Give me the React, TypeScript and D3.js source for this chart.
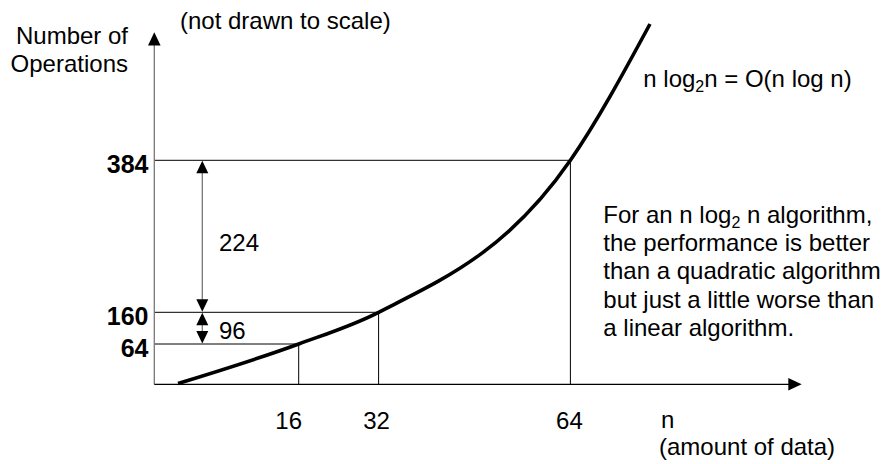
import React from "react";
import * as d3 from "d3";

// Data
const curveN = [1, 16, 32, 64, 80];
const curveOps = [0, 64, 160, 384, 506];
const nTicks = [16, 32, 64];
const opsTicks = [64, 160, 384];
const gapLabels = ["224", "96"];
const paragraph = [
  ["For an n log", "2", " n algorithm,"],
  ["the performance is better"],
  ["than a quadratic algorithm"],
  ["but just a little worse than"],
  ["a linear algorithm."],
];

const W = 886;
const H = 464;
const FONT = "'Liberation Sans', Arial, Helvetica, sans-serif";

export default function App() {
  // "not drawn to scale": piecewise linear scales
  const x = d3.scaleLinear().domain(curveN).range([178, 298.7, 378.6, 570.4, 650]);
  const y = d3.scaleLinear().domain(curveOps).range([383.5, 344, 312.3, 160.3, 24]);

  const axisX = 154.3;
  const axisY = 384.3;
  const pts: [number, number][] = curveN.map((n, i) => [x(n), y(curveOps[i])]);
  const line = d3.line().curve(d3.curveMonotoneX);
  const curvePath = line(pts) || "";

  const arrowX = 202.3;
  const ah = 12.5; // arrow head length
  const aw = 6; // half width
  const upHead = (tipY: number) => `M${arrowX},${tipY}L${arrowX - aw},${tipY + ah}L${arrowX + aw},${tipY + ah}Z`;
  const downHead = (tipY: number) => `M${arrowX},${tipY}L${arrowX - aw},${tipY - ah}L${arrowX + aw},${tipY - ah}Z`;

  const y384 = y(opsTicks[2]);
  const y160 = y(opsTicks[1]);
  const y64 = y(opsTicks[0]);

  const tickDx = [-10, -2, -1];

  return (
    <svg
      width={W}
      height={H}
      style={{ position: "absolute", left: 0, top: 0, background: "#fff" }}
      fontFamily={FONT}
    >
      <rect width={W} height={H} fill="#fff" />
      {/* guide lines */}
      {opsTicks.map((v, i) => (
        <g key={"g" + v}>
          <line x1={axisX} x2={x(nTicks[i])} y1={y(v)} y2={y(v)} stroke="#000" strokeWidth={1} />
          <line x1={x(nTicks[i])} x2={x(nTicks[i])} y1={y(v)} y2={axisY} stroke="#000" strokeWidth={1} />
        </g>
      ))}

      {/* axes */}
      <line x1={axisX} x2={axisX} y1={axisY} y2={44} stroke="#777" strokeWidth={1.3} />
      <path d={`M${axisX},32.3L${axisX - 6.3},45.5L${axisX + 6.3},45.5Z`} fill="#000" />
      <line x1={axisX} x2={789} y1={axisY} y2={axisY} stroke="#000" strokeWidth={1.2} />
      <path d={`M801.7,${axisY}L788.3,${axisY - 6.2}L788.3,${axisY + 6.2}Z`} fill="#000" />

      {/* curve */}
      <path d={curvePath} fill="none" stroke="#000" strokeWidth={3.6} />

      {/* dimension arrows */}
      <line x1={arrowX} x2={arrowX} y1={y384 + ah} y2={y160 - ah} stroke="#777" strokeWidth={1.3} />
      <path d={upHead(y384 + 0.5)} fill="#000" />
      <path d={downHead(y160 - 0.5)} fill="#000" />
      <line x1={arrowX} x2={arrowX} y1={y160 + ah} y2={y64 - ah} stroke="#777" strokeWidth={1.3} />
      <path d={upHead(y160 + 0.5)} fill="#000" />
      <path d={downHead(y64 - 0.5)} fill="#000" />

      <text x={219} y={(y384 + y160) / 2 + 15} fontSize={24} fill="#000">{gapLabels[0]}</text>
      <text x={219} y={(y160 + y64) / 2 + 11} fontSize={24} fill="#000">{gapLabels[1]}</text>

      {/* y labels */}
      {opsTicks.map((v) => (
        <text key={"yl" + v} x={148.5} y={y(v) + 13} fontSize={25} fontWeight="bold" textAnchor="end" fill="#000">
          {v}
        </text>
      ))}

      {/* x labels */}
      {nTicks.map((n, i) => (
        <text key={"xl" + n} x={x(n) + tickDx[i]} y={429} fontSize={24} textAnchor="middle" fill="#000">
          {n}
        </text>
      ))}

      {/* axis titles */}
      <text x={128} y={44} fontSize={24} textAnchor="end" fill="#000">Number of</text>
      <text x={128} y={71.5} fontSize={24} textAnchor="end" fill="#000">Operations</text>
      <text x={180} y={29} fontSize={24} fill="#000">(not drawn to scale)</text>
      <text x={661} y={428} fontSize={24} fill="#000">n</text>
      <text x={659} y={455} fontSize={24} fill="#000">(amount of data)</text>

      {/* curve label */}
      <text x={643.3} y={87} fontSize={24} fill="#000">
        n log<tspan fontSize={16} dy={5}>2</tspan>
        <tspan dy={-5}>n = O(n log n)</tspan>
      </text>

      {/* paragraph */}
      {paragraph.map((parts, i) => (
        <text key={"p" + i} x={603.3} y={223 + i * 28.2} fontSize={24} fill="#000">
          {parts.length === 3 ? (
            <>
              {parts[0]}
              <tspan fontSize={16} dy={5}>{parts[1]}</tspan>
              <tspan dy={-5}>{parts[2]}</tspan>
            </>
          ) : (
            parts[0]
          )}
        </text>
      ))}
    </svg>
  );
}
